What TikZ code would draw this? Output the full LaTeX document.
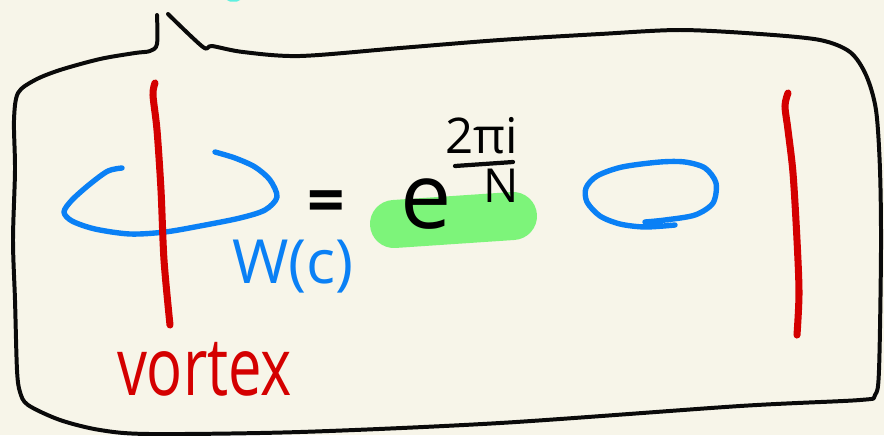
\documentclass[tikz,border=0pt]{standalone}
\usepackage{fontspec}
\setmainfont{Open Sans}
\usetikzlibrary{positioning}
\definecolor{PaperCream}{HTML}{F7F5E9}
\definecolor{InkBlack}{HTML}{0A0A0A}
\definecolor{VortexRed}{HTML}{D40000}
\definecolor{LoopBlue}{HTML}{0A80F5}
\definecolor{MarkGreen}{HTML}{7DF47A}
\definecolor{TipCyan}{HTML}{5FF0E0}

\begin{document}
\begin{tikzpicture}[x=0.03cm,y=-0.03cm,
      frame/.style={draw=InkBlack,line width=3.4pt,line cap=round,line join=round},
      vortexline/.style={draw=VortexRed,line width=6pt,line cap=round,line join=round},
      wloop/.style={draw=LoopBlue,line width=4.6pt,line cap=round,line join=round},
      inkstroke/.style={draw=InkBlack,line width=3.6pt,line cap=round},
      handtext/.style={inner sep=0pt,outer sep=0pt}
    ]
      \fill[PaperCream] (0,0) rectangle (884,435);
      \useasboundingbox (0,0) rectangle (884,435);
      \fill[TipCyan] (227,0) -- (240,0) -- (237,1.6) -- (230,1.6) -- cycle;

      % speech bubble
      \draw[frame] plot[smooth,tension=0.5] coordinates {(157,15) (157,44) (150,51) (135,53) (100,59) (60,70) (35,80) (18,93) (14,120) (15,170) (13,240) (15,300) (17,370) (20,392) (28,405) (60,420) (100,430) (150,434) (300,432) (500,423) (740,406) (860,400) (875,395) (879,370) (881,250) (880,170) (876,110) (866,75) (850,52) (820,40) (760,34) (680,30) (600,34) (500,40) (400,48) (300,56) (243,52) (212,46) (203,47) (168,14)};

      % Wilson loop round the vortex
      \draw[wloop] plot[smooth] coordinates {(122,168) (108,171) (90,184) (72,200) (64,212) (72,221) (95,229) (130,234) (165,232) (200,226) (240,218) (265,210) (277,197) (270,180) (255,167) (235,158) (215,152)};
      \draw[vortexline] plot[smooth] coordinates {(155,83) (153,95) (157,130) (161,190) (164,260) (170,325)};
      \node[handtext,anchor=base west,text=LoopBlue,font=\fontsize{52}{60}\selectfont] (wilson) at (232,283) {W(c)};
      \node[handtext,anchor=base west,text=VortexRed,font=\fontsize{51}{60}\selectfont] (vortex) at (117,395) {\scalebox{1}[1.35]{vortex}};

      \node[handtext,font=\fontsize{56}{60}\bfseries] (equals) at (326,207) {=};

      % phase factor
      \draw[MarkGreen,line width=41pt,line cap=round] (394,224) -- (513,216);
      \node[handtext,anchor=base west,font=\fontsize{78}{90}\selectfont] (expo) at (400,228) {e};
      \node[handtext,font=\fontsize{42}{50}\selectfont] (num) at (482,136) {2πi};
      \node[handtext,below=13pt of num,xshift=16pt,font=\fontsize{40}{48}\selectfont] (den) {N};
      \draw[inkstroke] (455,166) -- (513,162);

      % loop away from the vortex
      \draw[wloop] plot[smooth] coordinates {(675,225) (645,227) (620,224) (600,216) (587,202) (586,188) (597,176) (622,167) (660,162) (685,162) (705,168) (716,183) (713,203) (695,215) (665,220) (645,222)};
      \draw[vortexline] plot[smooth] coordinates {(788,93) (785,106) (788,130) (793,173) (797,240) (799,293) (797,335)};
    \end{tikzpicture}
\end{document}
